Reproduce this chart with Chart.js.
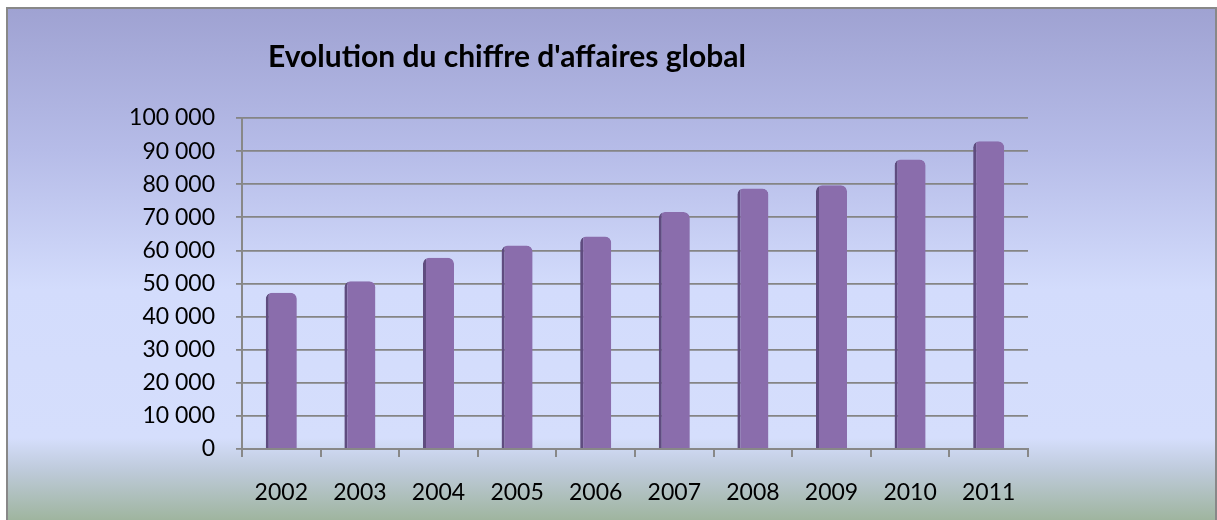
<!DOCTYPE html>
<html>
<head>
<meta charset="utf-8">
<script src="https://cdn.jsdelivr.net/npm/chart.js@4.4.0/dist/chart.umd.min.js"></script>
<style>
  html, body { margin: 0; padding: 0; background: #fff; }
  #wrap { width: 1217px; height: 520px; }
</style>
</head>
<body>
<div id="wrap"><canvas id="chart" width="1217" height="520"></canvas></div>
<script>
// Chart data
const chartTitle = "Evolution du chiffre d'affaires global";
const years = ['2002', '2003', '2004', '2005', '2006', '2007', '2008', '2009', '2010', '2011'];
const revenue = [47200, 50700, 57800, 61500, 64200, 71600, 78700, 79700, 87500, 93000];
const yMax = 100000;
const yStep = 10000;

// "100000" -> "100 000"
function formatThousands(v) {
    return String(v).replace(/\B(?=(\d{3})+(?!\d))/g, ' ');
}

// Frame background + title
const frameBackground = {
    id: 'frameBackground',
    beforeDraw(chart) {
        const ctx = chart.ctx;
        const w = chart.width, h = chart.height;
        ctx.save();
        ctx.fillStyle = '#ffffff';
        ctx.fillRect(0, 0, w, h);
        const g = ctx.createLinearGradient(0, 8, 0, h);
        g.addColorStop(0.00, '#9fa2d2');
        g.addColorStop(0.28, '#b6bce8');
        g.addColorStop(0.55, '#d3dcfc');
        g.addColorStop(0.84, '#d5defc');
        g.addColorStop(0.90, '#bfcbdc');
        g.addColorStop(1.00, '#9fb59f');
        ctx.fillStyle = g;
        ctx.fillRect(7, 8, w - 8, h - 8);
        ctx.strokeStyle = '#888888';
        ctx.lineWidth = 2;
        ctx.strokeRect(7, 8, w - 8, h + 10);
        ctx.restore();
    },
    afterDraw(chart) {
        const ctx = chart.ctx;
        ctx.save();
        ctx.fillStyle = '#000000';
        ctx.font = 'bold 30px Lato, "Open Sans", sans-serif';
        ctx.textAlign = 'left';
        ctx.textBaseline = 'middle';
        ctx.fillText(chartTitle, 268, 57);
        ctx.restore();
    }
};

const tickFont = { family: 'Lato, "Open Sans", sans-serif', size: 23 };

new Chart(document.getElementById('chart'), {
    type: 'bar',
    data: {
        labels: years,
        datasets: [{
            label: "Chiffre d'affaires",
            data: revenue,
            backgroundColor: '#8a6dac',
            borderColor: '#5f4c7f',
            borderWidth: { left: 3, right: 0, top: 0, bottom: 0 },
            borderRadius: { topLeft: 6, topRight: 6 },
            borderSkipped: 'bottom',
            categoryPercentage: 1.0,
            barPercentage: 0.395
        }]
    },
    options: {
        responsive: false,
        animation: false,
        layout: { padding: { top: 118, right: 189, left: 0, bottom: 0 } },
        plugins: {
            legend: { display: false },
            title: { display: false },
            tooltip: { enabled: false }
        },
        scales: {
            x: {
                grid: {
                    offset: true,
                    drawOnChartArea: false,
                    drawTicks: true,
                    tickLength: 8,
                    color: '#888888',
                    lineWidth: 2
                },
                border: { color: '#888888', width: 2 },
                ticks: { color: '#000', font: tickFont, padding: 22, maxRotation: 0 },
                afterFit(scale) { scale.height = 71; }
            },
            y: {
                min: 0,
                max: yMax,
                grid: {
                    color: '#858585',
                    lineWidth: 1.8,
                    drawTicks: true,
                    tickLength: 6
                },
                border: { color: '#888888', width: 2 },
                ticks: {
                    stepSize: yStep,
                    color: '#000',
                    font: tickFont,
                    padding: 21,
                    callback: (v) => formatThousands(v)
                },
                afterFit(scale) { scale.width = 242; }
            }
        }
    },
    plugins: [frameBackground]
});
</script>
</body>
</html>
